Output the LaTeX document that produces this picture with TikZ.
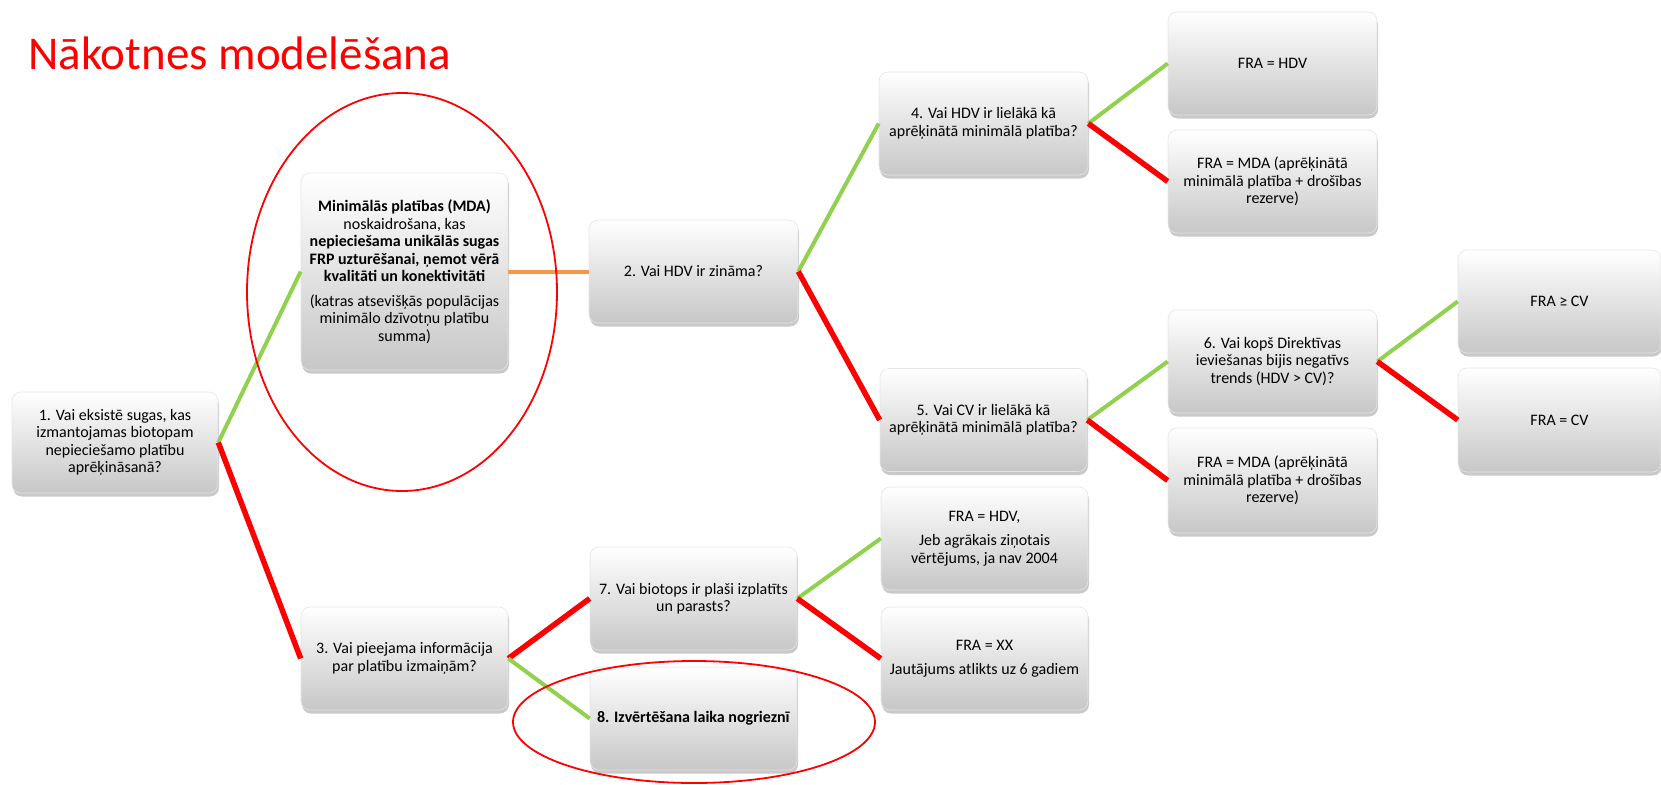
\documentclass[tikz,border=0pt]{standalone}
\usepackage{fontspec}
\setmainfont{Carlito}
\usetikzlibrary{shadows}
\definecolor{lgreen}{HTML}{92D050}
\definecolor{lred}{HTML}{FF0000}
\definecolor{lorange}{HTML}{F79646}
\begin{document}
\begin{tikzpicture}[x=1pt,y=-1pt,
  box/.style={draw=black!10, line width=0.6pt, rounded corners=9pt,
    top color=white, middle color=black!4, bottom color=black!22,
    minimum width=207pt, minimum height=103pt, inner sep=2pt, align=center,
    font=\fontsize{16}{17.5}\selectfont,
    drop shadow={shadow xshift=1pt, shadow yshift=-3.5pt, opacity=0.3, fill=black!70}},
  yes/.style={draw=lgreen, line width=4pt},
  no/.style={draw=lred, line width=5.5pt},
  mid/.style={draw=lorange, line width=4pt},
  ring/.style={draw=lred, line width=1.8pt}
]
\useasboundingbox (0,0) rectangle (1661,784);

\node[anchor=base west, inner sep=0pt, text=lred, font=\fontsize{47}{50}\selectfont] (title) at (28,70) {Nākotnes modelēšana};

% column A
\node[box, minimum width=206pt, minimum height=101pt] (b1) at (115,442.5) {1. Vai eksistē sugas, kas\\izmantojamas biotopam\\nepieciešamo platību\\aprēķināsanā?};
% column B
\node[box, minimum height=197pt] (mda) at (404.5,271.5) {\textbf{Minimālās platības (MDA)}\\noskaidrošana, kas\\\textbf{nepieciešama unikālās sugas}\\\textbf{FRP uzturēšanai, ņemot vērā}\\\textbf{kvalitāti un konektivitāti}\\[7pt](katras atsevišķās populācijas\\minimālo dzīvotņu platību\\summa)};
\node[box] (b3) at (404.5,658.5) {3. Vai pieejama informācija\\par platību izmaiņām?};
% column C
\node[box, minimum width=209pt] (b2) at (693.5,271.5) {2. Vai HDV ir zināma?};
\node[box] (b7) at (693.5,598.5) {7. Vai biotops ir plaši izplatīts\\un parasts?};
\node[box] (b8) at (693.5,718.5) {\textbf{8. Izvērtēšana laika nogriezn\={\i}}};
% column D
\node[box, minimum width=209pt] (b4) at (983.5,123.5) {4. Vai HDV ir lielākā kā\\aprēķinātā minimālā platība?};
\node[box] (b5) at (983.5,420) {5. Vai CV ir lielākā kā\\aprēķinātā minimālā platība?};
\node[box] (r7a) at (984.5,538.5) {FRA = HDV,\\[7pt]Jeb agrākais ziņotais\\vērtējums, ja nav 2004};
\node[box] (r7b) at (984.5,658.5) {FRA = XX\\[7pt]Jautājums atlikts uz 6 gadiem};
% column E
\node[box, minimum width=209pt] (r4a) at (1272.5,63.5) {FRA = HDV};
\node[box, minimum width=209pt] (r4b) at (1272.5,181.5) {FRA = MDA (aprēķinātā\\minimālā platība + drošības\\rezerve)};
\node[box, minimum width=209pt] (b6) at (1272.5,361.5) {6. Vai kopš Direktīvas\\ieviešanas bijis negatīvs\\trends (HDV > CV)?};
\node[box, minimum width=209pt, minimum height=105pt] (r5b) at (1272.5,480.5) {FRA = MDA (aprēķinātā\\minimālā platība + drošības\\rezerve)};
% column F
\node[box, minimum width=203pt] (r6a) at (1559.5,301.5) {FRA ≥ CV};
\node[box, minimum width=203pt, minimum height=104pt] (r6b) at (1559.5,420) {FRA = CV};

% connectors
\draw[yes] (b1.east) -- (mda.west);
\draw[no] (b1.east) -- (b3.west);
\draw[mid] (mda.east) -- (b2.west);
\draw[yes] (b2.east) -- (b4.west);
\draw[no] (b2.east) -- (b5.west);
\draw[yes] (b4.east) -- (r4a.west);
\draw[no] (b4.east) -- (r4b.west);
\draw[yes] (b5.east) -- (b6.west);
\draw[no] (b5.east) -- (r5b.west);
\draw[yes] (b6.east) -- (r6a.west);
\draw[no] (b6.east) -- (r6b.west);
\draw[no] (b3.east) -- (b7.west);
\draw[yes] (b3.east) -- (b8.west);
\draw[yes] (b7.east) -- (r7a.west);
\draw[no] (b7.east) -- (r7b.west);

% highlight rings
\draw[ring] (402,292) ellipse [x radius=155, y radius=199];
\draw[ring] (694,722) ellipse [x radius=181, y radius=61];
\end{tikzpicture}
\end{document}
